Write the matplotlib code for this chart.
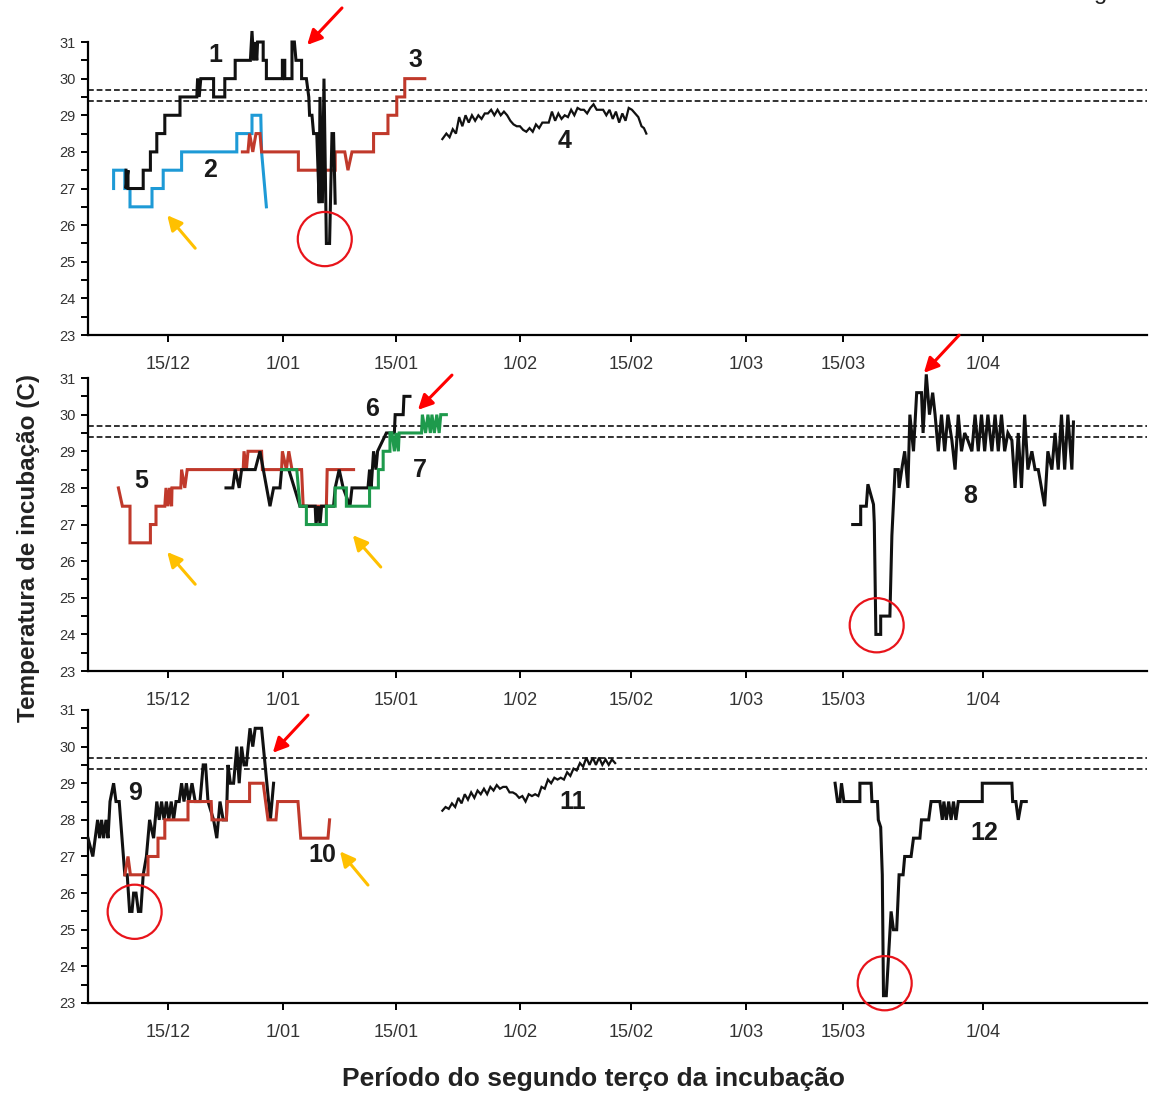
import matplotlib
matplotlib.use("Agg")
import matplotlib.pyplot as plt
from matplotlib.patches import Ellipse
from matplotlib.ticker import MultipleLocator

plt.rcParams['font.family'] = ['Liberation Sans', 'DejaVu Sans']

# eixo x: dias a partir do inicio do eixo (posicoes das datas)
tick_pos = [9.96, 24.4, 38.5, 54.06, 67.9, 82.25, 94.4, 111.9]
tick_labels = ["15/12", "1/01", "15/01", "1/02", "15/02", "1/03", "15/03", "1/04"]
limite_sup = 29.7
limite_inf = 29.4

# ---- painel 1 ----
dias_1 = [4.75, 4.75, 5.0, 5.0, 6.9, 6.9, 7.8, 7.8, 8.6, 8.6, 9.6, 9.6, 11.5, 11.5, 13.6, 13.7,
          13.9, 14.1, 15.7, 15.7, 17.1, 17.1, 18.4, 18.4, 20.3, 20.5, 20.7, 20.9, 21.1, 21.2, 21.9,
          21.9, 22.3, 22.3, 24.3, 24.3, 24.6, 24.6, 25.5, 25.5, 25.8, 26.0, 26.7, 26.7, 27.3, 27.6,
          27.7, 28.0, 28.2, 28.6, 28.9, 29.0, 29.3, 29.5, 29.8, 30.2, 30.5, 30.7, 30.9]
temp_1 = [27.5, 27.0, 27.5, 27.0, 27.0, 27.5, 27.5, 28.0, 28.0, 28.5, 28.5, 29.0, 29.0, 29.5, 29.5, 30.0,
          29.5, 30.0, 30.0, 29.5, 29.5, 30.0, 30.0, 30.5, 30.5, 31.3, 30.5, 31.0, 30.5, 31.0, 31.0,
          30.5, 30.5, 30.0, 30.0, 30.5, 30.5, 30.0, 30.0, 31.0, 31.0, 30.5, 30.5, 30.0, 30.0, 29.5,
          29.0, 29.0, 28.5, 28.5, 26.6, 29.5, 26.6, 30.0, 25.5, 25.5, 28.5, 28.5, 26.6]

dias_2 = [3.2, 3.2, 4.6, 4.6, 5.25, 5.25, 8.0, 8.0, 9.4, 9.4, 11.7, 11.7, 18.6, 18.6, 20.5, 20.5,
          21.6, 21.7, 22.3]
temp_2 = [27.0, 27.5, 27.5, 27.0, 27.0, 26.5, 26.5, 27.0, 27.0, 27.5, 27.5, 28.0, 28.0, 28.5, 28.5, 29.0,
          29.0, 28.0, 26.5]

dias_3 = [19.3, 20.0, 20.2, 20.6, 21.0, 21.5, 21.7, 26.3, 26.3, 30.9, 30.9, 32.1, 32.5, 33.0, 35.7,
          35.7, 37.5, 37.5, 38.6, 38.6, 39.6, 39.6, 42.1]
temp_3 = [28.0, 28.0, 28.5, 28.0, 28.5, 28.5, 28.0, 28.0, 27.5, 27.5, 28.0, 28.0, 27.5, 28.0, 28.0,
          28.5, 28.5, 29.0, 29.0, 29.5, 29.5, 30.0, 30.0]

dias_4 = [44.3, 44.8, 45.2, 45.6, 46.0, 46.4, 46.8, 47.2, 47.6, 48.0, 48.4, 48.8, 49.2, 49.6, 50.0,
          50.4, 50.8, 51.2, 51.6, 52.0, 52.4, 52.8, 53.2, 53.6, 54.0, 54.4, 54.8, 55.2, 55.6, 56.0,
          56.4, 56.8, 57.2, 57.6, 58.0, 58.4, 58.8, 59.2, 59.6, 60.0, 60.4, 60.8, 61.2, 61.6, 62.0,
          62.4, 62.8, 63.2, 63.6, 64.0, 64.4, 64.8, 65.2, 65.6, 66.0, 66.4, 66.8, 67.2, 67.6, 68.0,
          68.4, 68.8, 69.2, 69.5, 69.8]
temp_4 = [28.35, 28.5, 28.4, 28.62, 28.5, 28.95, 28.7, 29.0, 28.8, 29.0, 28.85, 29.0, 28.9, 29.05, 29.05,
          29.15, 29.0, 29.15, 29.0, 29.1, 29.0, 28.85, 28.75, 28.7, 28.7, 28.6, 28.55, 28.65, 28.55, 28.75,
          28.65, 28.8, 28.8, 28.8, 29.1, 28.85, 29.05, 28.9, 29.0, 28.95, 29.15, 29.0, 29.2, 29.15, 29.15,
          29.05, 29.2, 29.3, 29.15, 29.15, 29.15, 29.0, 29.15, 28.9, 29.1, 28.8, 29.05, 28.85, 29.2, 29.15,
          29.05, 28.95, 28.7, 28.65, 28.5]

# ---- painel 2 ----
dias_5 = [3.8, 4.3, 5.25, 5.25, 7.8, 7.8, 8.5, 8.5, 9.6, 9.75, 10.0, 10.2, 10.45, 10.5, 11.6, 11.7,
          12.1, 12.4, 12.5, 19.4, 19.5, 19.8, 20.0, 21.7, 21.8, 24.2, 24.3, 24.8, 25.1, 25.5, 26.7,
          26.9, 29.8, 29.9, 33.2]
temp_5 = [28.0, 27.5, 27.5, 26.5, 26.5, 27.0, 27.0, 27.5, 27.5, 28.0, 27.5, 28.0, 27.5, 28.0, 28.0, 28.5,
          28.0, 28.5, 28.5, 28.5, 29.0, 28.5, 29.0, 29.0, 28.5, 28.5, 29.0, 28.5, 29.0, 28.5, 28.5,
          27.5, 27.5, 28.5, 28.5]

dias_6 = [17.25, 18.1, 18.4, 18.9, 19.2, 20.9, 21.5, 22.75, 23.2, 24.0, 24.2, 25.1, 26.5, 28.4, 28.5,
          28.8, 29.0, 29.2, 30.7, 30.9, 31.4, 31.9, 32.75, 33.0, 35.0, 35.2, 35.4, 35.7, 36.0, 36.2,
          37.3, 38.3, 38.4, 39.4, 39.5, 40.25]
temp_6 = [28.0, 28.0, 28.5, 28.0, 28.5, 28.5, 29.0, 27.5, 28.0, 28.0, 28.5, 28.5, 27.5, 27.5, 27.0,
          27.5, 27.0, 27.5, 27.5, 28.0, 28.5, 28.0, 27.5, 28.0, 28.0, 28.5, 28.0, 29.0, 28.5, 29.0,
          29.5, 29.5, 30.0, 30.0, 30.5, 30.5]

dias_7 = [24.2, 26.1, 26.5, 27.3, 27.3, 29.8, 29.8, 30.9, 30.9, 32.3, 32.3, 35.2, 35.2, 36.3, 36.3,
          36.9, 36.9, 37.75, 37.75, 38.0, 38.3, 38.5, 38.8, 38.9, 41.7, 41.8, 42.2, 42.5, 42.8, 43.0,
          43.3, 43.6, 43.9, 44.1, 44.8]
temp_7 = [28.5, 28.5, 27.5, 27.5, 27.0, 27.0, 27.5, 27.5, 28.0, 28.0, 27.5, 27.5, 28.0, 28.0, 28.5,
          28.5, 29.0, 29.0, 29.5, 29.5, 29.0, 29.5, 29.0, 29.5, 29.5, 30.0, 29.5, 30.0, 29.5, 30.0,
          29.5, 30.0, 29.5, 30.0, 30.0]

dias_8 = [95.6, 96.6, 96.6, 97.3, 97.5, 98.2, 98.3, 98.5, 99.1, 99.1, 100.25, 100.5, 100.9, 101.3,
          101.4, 101.8, 102.1, 102.5, 102.75, 103.2, 103.6, 104.2, 104.4, 104.8, 105.2, 105.6, 105.9,
          106.3, 106.7, 107.1, 107.5, 108.0, 108.4, 108.8, 109.2, 109.6, 110.0, 110.5, 110.9, 111.3,
          111.7, 112.1, 112.5, 113.0, 113.4, 113.8, 114.2, 114.6, 115.0, 115.5, 115.9, 116.3, 116.7,
          117.1, 117.5, 118.0, 118.4, 118.8, 119.2, 119.6, 120.0, 120.5, 120.9, 121.3, 121.7, 122.1,
          122.5, 123.0, 123.2]
temp_8 = [27.0, 27.0, 27.5, 27.5, 28.1, 27.55, 27.05, 24.0, 24.0, 24.5, 24.5, 26.7, 28.5, 28.5,
          28.0, 28.6, 29.0, 28.0, 30.0, 29.0, 30.6, 30.6, 29.5, 31.1, 30.0, 30.6, 30.0,
          29.0, 30.0, 29.0, 30.0, 29.3, 28.5, 30.0, 29.0, 29.5, 29.3, 29.0, 30.0, 29.0,
          30.0, 29.0, 30.0, 29.0, 30.0, 29.0, 30.0, 29.0, 29.5, 29.3, 28.0, 29.5, 28.0,
          30.0, 28.5, 29.0, 28.5, 28.5, 28.0, 27.5, 29.0, 28.5, 29.5, 28.5, 30.0, 28.5,
          30.0, 28.5, 29.8]

# ---- painel 3 ----
dias_9 = [0.0, 0.6, 0.9, 1.2, 1.45, 1.7, 1.95, 2.25, 2.5, 2.75, 3.2, 3.5, 3.9, 4.6, 4.9, 5.2, 5.5,
          5.7, 6.0, 6.3, 6.6, 6.9, 7.3, 7.7, 8.2, 8.6, 8.9, 9.2, 9.5, 9.8, 10.1, 10.4, 10.7, 11.0,
          11.4, 11.7, 12.0, 12.3, 12.6, 13.0, 13.4, 14.0, 14.4, 14.7, 15.0, 15.7, 16.1, 16.5, 16.9,
          17.3, 17.5, 17.8, 18.2, 18.6, 18.9, 19.2, 19.5, 19.8, 20.25, 20.6, 20.9, 21.7, 22.8, 23.2]
temp_9 = [27.5, 27.0, 27.5, 28.0, 27.5, 28.0, 27.5, 28.0, 27.5, 28.5, 29.0, 28.5, 28.5, 26.5, 26.5,
          25.5, 25.5, 26.0, 26.0, 25.5, 25.5, 26.5, 27.0, 28.0, 27.5, 28.5, 28.0, 28.5, 28.0, 28.5,
          28.0, 28.5, 28.0, 28.5, 28.5, 29.0, 28.5, 29.0, 28.5, 29.0, 28.5, 28.5, 29.5, 29.5, 28.5,
          28.0, 27.5, 28.5, 28.0, 28.0, 29.5, 29.0, 29.0, 30.0, 29.0, 30.0, 29.5, 29.5, 30.5, 30.0,
          30.5, 30.5, 28.0, 29.0]

dias_10 = [4.6, 5.0, 5.3, 7.5, 7.5, 8.75, 8.75, 9.6, 9.6, 12.5, 12.5, 15.4, 15.5, 17.3, 17.4, 20.2,
           20.2, 21.9, 22.5, 23.5, 23.7, 26.25, 26.6, 30.0, 30.2]
temp_10 = [26.5, 27.0, 26.5, 26.5, 27.0, 27.0, 27.5, 27.5, 28.0, 28.0, 28.5, 28.5, 28.0, 28.0, 28.5,
           28.5, 29.0, 29.0, 28.0, 28.0, 28.5, 28.5, 27.5, 27.5, 28.0]

dias_11 = [44.3, 44.7, 45.1, 45.5, 45.9, 46.3, 46.7, 47.1, 47.5, 47.9, 48.3, 48.7, 49.1, 49.5, 49.9,
           50.3, 50.7, 51.1, 51.5, 51.9, 52.3, 52.7, 53.1, 53.5, 53.9, 54.3, 54.7, 55.1, 55.5, 55.9,
           56.3, 56.7, 57.1, 57.5, 57.9, 58.3, 58.7, 59.1, 59.5, 59.9, 60.3, 60.7, 61.1, 61.5, 61.9,
           62.3, 62.7, 63.1, 63.5, 63.9, 64.3, 64.7, 65.1, 65.5, 65.9]
temp_11 = [28.25, 28.35, 28.3, 28.45, 28.35, 28.6, 28.45, 28.7, 28.55, 28.75, 28.6, 28.8, 28.7, 28.85,
           28.7, 28.9, 28.8, 28.95, 28.85, 28.9, 28.9, 28.75, 28.75, 28.7, 28.6, 28.65, 28.5, 28.7,
           28.65, 28.7, 28.65, 28.9, 28.85, 29.1, 29.0, 29.15, 29.1, 29.15, 29.1, 29.3, 29.2, 29.4,
           29.35, 29.55, 29.45, 29.7, 29.5, 29.7, 29.5, 29.7, 29.5, 29.65, 29.5, 29.65, 29.55]

dias_12 = [93.4, 93.7, 94.0, 94.2, 94.5, 96.5, 96.5, 97.9, 98.0, 98.7, 98.8, 99.1, 99.3, 99.45, 99.8,
           100.4, 100.7, 101.1, 101.4, 101.9, 102.1, 102.9, 103.2, 104.0, 104.2, 105.1, 105.4, 106.5,
           106.8, 107.0, 107.3, 107.6, 107.9, 108.2, 108.5, 108.8, 111.8, 111.8, 115.5, 115.6, 116.0,
           116.3, 116.7, 117.3]
temp_12 = [29.0, 28.5, 28.5, 29.0, 28.5, 28.5, 29.0, 29.0, 28.5, 28.5, 28.0, 27.8, 26.5, 23.2, 23.2,
           25.5, 25.0, 25.0, 26.5, 26.5, 27.0, 27.0, 27.5, 27.5, 28.0, 28.0, 28.5, 28.5,
           28.0, 28.5, 28.0, 28.5, 28.0, 28.5, 28.0, 28.5, 28.5, 29.0, 29.0, 28.5, 28.5,
           28.0, 28.5, 28.5]

preto = "#111111"
vermelho = "#C0392B"
azul = "#1E9AD6"
verde = "#1E9A4C"
seta_vermelha = "#FF0000"
seta_amarela = "#FFC000"

paineis = [
    {
        "pos": [0.0764, 0.6946, 0.9193, 0.2671],
        "series": [(dias_2, temp_2, azul, 2.2), (dias_3, temp_3, vermelho, 2.2),
                   (dias_1, temp_1, preto, 2.2), (dias_4, temp_4, preto, 1.6)],
        "rotulos": [("1", 15.9, 30.64), ("2", 15.25, 27.5), ("3", 40.9, 30.5), ("4", 59.6, 28.3)],
        "setas": [(31.75, 31.93, 27.4, 30.92, seta_vermelha), (13.4, 25.37, 9.9, 26.27, seta_amarela)],
        "circulos": [(29.6, 25.62)],
    },
    {
        "pos": [0.0764, 0.3883, 0.9193, 0.2671],
        "series": [(dias_5, temp_5, vermelho, 2.2), (dias_6, temp_6, preto, 2.2),
                   (dias_7, temp_7, verde, 2.2), (dias_8, temp_8, preto, 2.2)],
        "rotulos": [("5", 6.6, 28.19), ("6", 35.5, 30.15), ("7", 41.5, 28.49), ("8", 110.25, 27.78)],
        "setas": [(45.5, 31.08, 41.25, 30.13, seta_vermelha), (108.9, 32.17, 104.5, 31.14, seta_vermelha),
                  (13.4, 25.37, 9.9, 26.25, seta_amarela), (36.6, 25.84, 33.1, 26.71, seta_amarela)],
        "circulos": [(98.6, 24.25)],
    },
    {
        "pos": [0.0764, 0.0857, 0.9193, 0.2671],
        "series": [(dias_9, temp_9, preto, 2.2), (dias_10, temp_10, vermelho, 2.2),
                   (dias_11, temp_11, preto, 1.6), (dias_12, temp_12, preto, 2.2)],
        "rotulos": [("9", 5.9, 28.73), ("10", 29.25, 27.04), ("11", 60.6, 28.5), ("12", 112.1, 27.64)],
        "setas": [(27.5, 30.86, 23.1, 29.83, seta_vermelha), (35.0, 26.22, 31.5, 27.14, seta_amarela)],
        "circulos": [(5.83, 25.49), (99.6, 23.54)],
    },
]

fig = plt.figure(figsize=(11.52, 10.97), dpi=100)

for p in paineis:
    ax = fig.add_axes(p["pos"])
    for x, y, cor, lw in p["series"]:
        ax.plot(x, y, color=cor, lw=lw, solid_joinstyle="miter", clip_on=False, zorder=3)
    ax.axhline(limite_sup, color="#222222", lw=1.3, ls=(0, (3.2, 1.6)), zorder=2)
    ax.axhline(limite_inf, color="#222222", lw=1.3, ls=(0, (3.2, 1.6)), zorder=2)
    for txt, x, y in p["rotulos"]:
        ax.text(x, y, txt, fontsize=18, fontweight="heavy", color="#1a1a1a", ha="center", va="center")
    for x0, y0, x1, y1, cor in p["setas"]:
        ax.annotate("", xy=(x1, y1), xytext=(x0, y0), annotation_clip=False,
                    arrowprops=dict(arrowstyle="-|>", color=cor, lw=2.2, mutation_scale=22,
                                    shrinkA=0, shrinkB=0))
    for cx, cy in p["circulos"]:
        ax.add_patch(Ellipse((cx, cy), 6.75, 1.48, fill=False, edgecolor="#E8141B", lw=1.6,
                             clip_on=False, zorder=4))

    ax.set_xlim(0, 132.4)
    ax.set_ylim(23, 31)
    ax.spines["top"].set_visible(False)
    ax.spines["right"].set_visible(False)
    ax.spines["left"].set_linewidth(1.6)
    ax.spines["bottom"].set_linewidth(1.6)
    ax.set_xticks(tick_pos)
    ax.set_xticklabels(tick_labels)
    ax.yaxis.set_major_locator(MultipleLocator(1))
    ax.yaxis.set_minor_locator(MultipleLocator(0.5))
    ax.tick_params(axis="x", direction="out", length=5, width=1.4, pad=10,
                   labelsize=13, labelcolor="#333333")
    ax.tick_params(axis="y", which="both", direction="out", length=5, width=1.4, pad=4,
                   labelsize=10.5, labelcolor="#333333")

fig.text(0.025, 0.5, "Temperatura de incubação (C)", rotation=90, ha="center", va="center",
         fontsize=17.5, fontweight="bold", color="#222222")
fig.text(0.515, 0.016, "Período do segundo terço da incubação", ha="center", va="center",
         fontsize=19, fontweight="bold", color="#222222")
fig.text(0.955, 1.001, "g", ha="center", va="baseline", fontsize=17, color="#222222")

fig.savefig("out.png", dpi=100)
